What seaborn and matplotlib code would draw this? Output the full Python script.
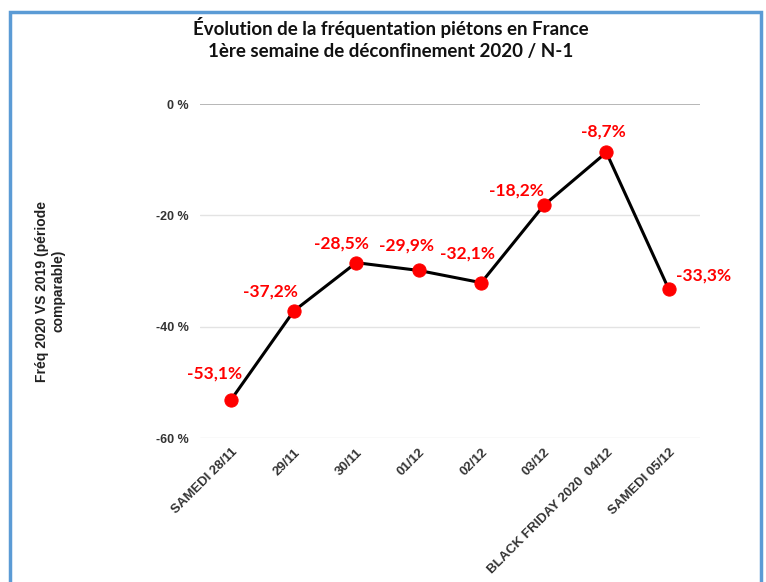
import numpy as np
import pandas as pd
import matplotlib
matplotlib.use("Agg")
import matplotlib.pyplot as plt
import matplotlib.transforms as mtrans
from matplotlib.patches import Rectangle
import seaborn as sns

# data
days = ["SAMEDI 28/11", "29/11", "30/11", "01/12", "02/12", "03/12",
        "BLACK FRIDAY 2020  04/12", "SAMEDI 05/12"]
freq = [-53.1, -37.2, -28.5, -29.9, -32.1, -18.2, -8.7, -33.3]
labels = ["-53,1%", "-37,2%", "-28,5%", "-29,9%", "-32,1%", "-18,2%", "-8,7%", "-33,3%"]
y_ticks = [0, -20, -40, -60]

# label offsets in points (layout only)
label_offsets = [(-12, 19), (-17, 14), (-11, 14), (-9, 18), (-10, 21), (-20, 11), (-2, 15), (25, 10)]

df = pd.DataFrame({"pos": np.arange(len(days)), "freq": freq})

sns.set_theme(style="white")
plt.rcParams["font.family"] = ["Liberation Sans", "DejaVu Sans"]

fig = plt.figure(figsize=(7.66, 5.82), dpi=100)
ax = fig.add_axes([0.261, 0.2474, 0.653, 0.5739])

for t in y_ticks:
    ax.axhline(t, color="#aaaaaa" if t == 0 else "#e3e3e3", lw=1.2 if t == 0 else 1.0, zorder=0)

sns.lineplot(data=df, x="pos", y="freq", ax=ax, color="black", lw=2.2,
             marker="o", markersize=9.5, markerfacecolor="red",
             markeredgecolor="red", clip_on=False, zorder=3)

for i, (lab, off) in enumerate(zip(labels, label_offsets)):
    ax.annotate(lab, (i, freq[i]), xytext=off, textcoords="offset points",
                ha="center", va="center", color="red", fontsize=12.5,
                fontweight="bold", family=["Lato", "DejaVu Sans"])

ax.set_xlim(-0.5, len(days) - 0.5)
ax.set_ylim(-60, 0)
ax.set_yticks(y_ticks)
ax.set_yticklabels([f"{t} %" for t in y_ticks], fontsize=9, fontweight="bold", color="#333333")
ax.set_xticks(range(len(days)))
ax.set_xticklabels(days, rotation=45, ha="right", rotation_mode="anchor",
                   fontsize=9.5, fontweight="bold", color="#333333")
# small nudge of the rotated labels
shift = mtrans.ScaledTranslation(-2 / 72, 0, fig.dpi_scale_trans)
for lab in ax.get_xticklabels():
    lab.set_transform(lab.get_transform() + shift)
ax.tick_params(axis="y", pad=8, length=0)
ax.tick_params(axis="x", pad=6, length=0)
ax.set_xlabel("")
ax.set_ylabel("")
sns.despine(ax=ax, left=True, bottom=True)

fig.text(0.066, 0.50, "Fréq 2020 VS 2019 (période\ncomparable)", rotation=90,
         ha="center", va="center", fontsize=10, fontweight="bold", color="#222222",
         multialignment="center")

fig.text(0.51, 0.934, "Évolution de la fréquentation piétons en France\n1ère semaine de déconfinement 2020 / N-1",
         ha="center", va="center", fontsize=13.5, fontweight="bold", color="#111111",
         family=["Lato", "DejaVu Sans"], linespacing=1.4, multialignment="center")

# blue frame around the chart
fig.patches.append(Rectangle((0.013, -0.05), 0.981, 1.03, transform=fig.transFigure,
                             fill=False, edgecolor="#5b9bd5", lw=2.5))

fig.savefig("out.png", dpi=100, facecolor="white")
